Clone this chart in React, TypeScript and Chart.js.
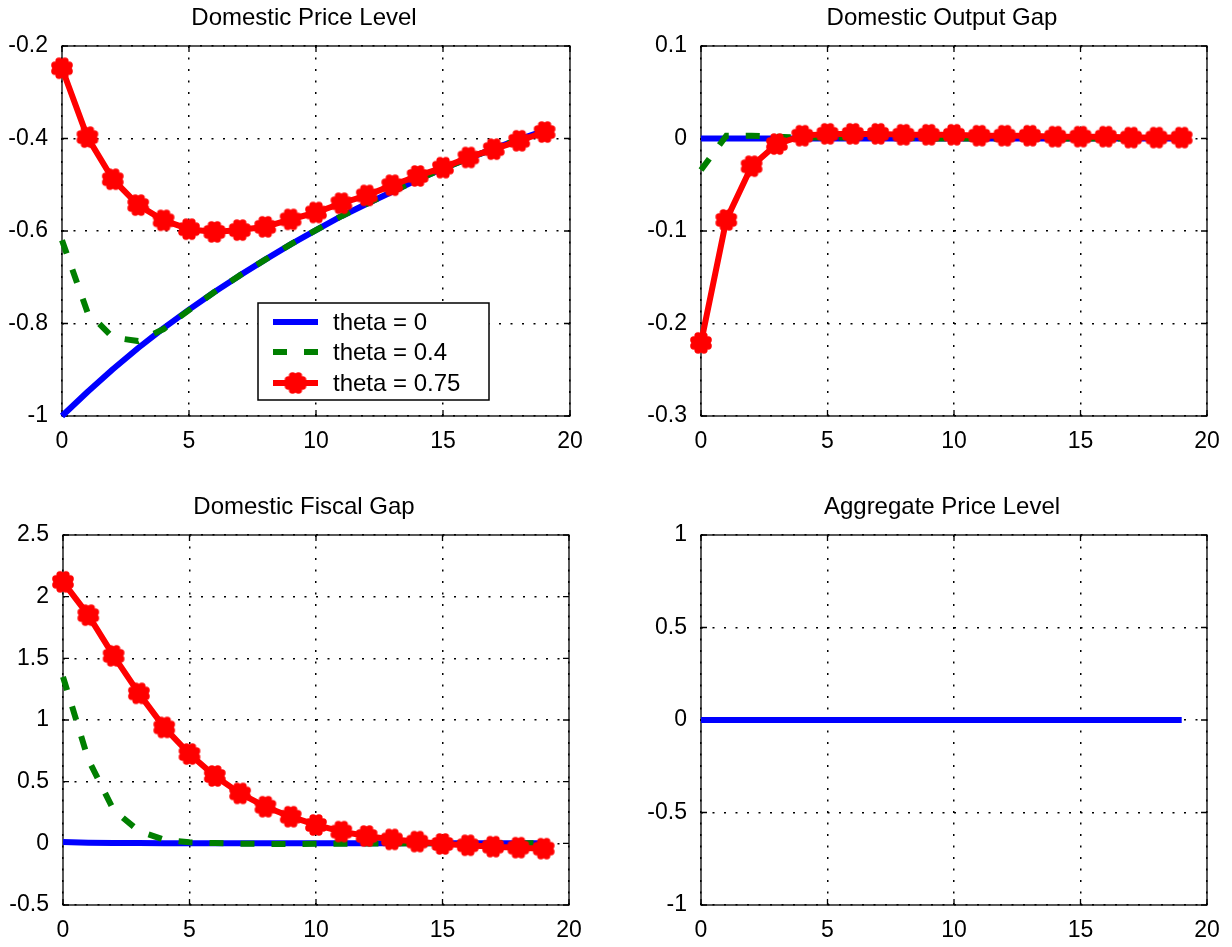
import React, { useEffect, useRef } from "react";
import { Chart, registerables } from "chart.js";
Chart.register(...registerables);

const FONT = "'Liberation Sans', Arial, Helvetica, sans-serif";

// ---- data ----
const STEPS = [0, 1, 2, 3, 4, 5, 6, 7, 8, 9, 10, 11, 12, 13, 14, 15, 16, 17, 18, 19];
const SERIES_LABELS = ["theta = 0", "theta = 0.4", "theta = 0.75"];
const PANEL_TITLES = ["Domestic Price Level", "Domestic Output Gap", "Domestic Fiscal Gap", "Aggregate Price Level"];

const priceLevelTheta0 = [-1.0, -0.948, -0.899, -0.853, -0.81, -0.77, -0.732, -0.696, -0.662, -0.629, -0.598, -0.568, -0.541, -0.515, -0.489, -0.465, -0.443, -0.422, -0.402, -0.383];
const priceLevelTheta04 = [-0.62, -0.775, -0.83, -0.838, -0.812, -0.771, -0.732, -0.696, -0.662, -0.629, -0.598, -0.568, -0.541, -0.515, -0.489, -0.465, -0.443, -0.422, -0.402, -0.383];
const priceLevelTheta075 = [-0.248, -0.397, -0.488, -0.544, -0.577, -0.596, -0.602, -0.598, -0.591, -0.575, -0.56, -0.54, -0.523, -0.501, -0.481, -0.463, -0.441, -0.423, -0.405, -0.386];

const outputGapTheta0 = [0, 0, 0, 0, 0, 0, 0, 0, 0, 0, 0, 0, 0, 0, 0, 0, 0, 0, 0, 0];
const outputGapTheta04 = [-0.034, 0.003, 0.003, 0.002, 0.001, 0.001, 0.001, 0.001, 0.001, 0, 0, 0, 0, 0, 0, 0, 0, 0, 0, 0];
const outputGapTheta075 = [-0.221, -0.088, -0.03, -0.006, 0.003, 0.005, 0.005, 0.005, 0.004, 0.004, 0.004, 0.003, 0.003, 0.003, 0.002, 0.002, 0.002, 0.001, 0.001, 0.001];

const fiscalGapTheta0 = [0.01, 0.005, 0.003, 0.002, 0.001, 0, 0, 0, 0, 0, 0, 0, 0, 0, 0, 0, 0, 0, 0, 0];
const fiscalGapTheta04 = [1.35, 0.68, 0.27, 0.1, 0.03, 0.008, 0.002, -0.003, -0.005, -0.005, -0.004, -0.003, -0.002, -0.001, 0, 0, 0, 0, 0, 0];
const fiscalGapTheta075 = [2.12, 1.85, 1.52, 1.216, 0.94, 0.724, 0.546, 0.405, 0.297, 0.216, 0.149, 0.095, 0.059, 0.032, 0.014, -0.005, -0.016, -0.027, -0.035, -0.043];

const aggregatePriceTheta0 = [0, 0, 0, 0, 0, 0, 0, 0, 0, 0, 0, 0, 0, 0, 0, 0, 0, 0, 0, 0];

// y-axis ranges [min, max, step]
const priceLevelRange = [-1, -0.2, 0.2];
const outputGapRange = [-0.3, 0.1, 0.1];
const fiscalGapRange = [-0.5, 2.5, 0.5];
const aggregatePriceRange = [-1, 1, 0.5];
const xRange = [0, 20, 5];

// ---- styling / layout ----
const COLORS = ["#0000ff", "#007f00", "#ff0000"];

type Box = { l: number; t: number; r: number; b: number };
type PanelSpec = {
  title: string;
  region: { x: number; y: number; w: number; h: number };
  area: Box;
  range: number[];
  series: number[][];
  legend: boolean;
};

const PANELS: PanelSpec[] = [
  { title: PANEL_TITLES[0], region: { x: 0, y: 0, w: 616, h: 473 }, area: { l: 62, t: 46, r: 570, b: 416 }, range: priceLevelRange, series: [priceLevelTheta0, priceLevelTheta04, priceLevelTheta075], legend: true },
  { title: PANEL_TITLES[1], region: { x: 616, y: 0, w: 616, h: 473 }, area: { l: 701, t: 46, r: 1207, b: 416 }, range: outputGapRange, series: [outputGapTheta0, outputGapTheta04, outputGapTheta075], legend: false },
  { title: PANEL_TITLES[2], region: { x: 0, y: 473, w: 616, h: 474 }, area: { l: 63, t: 535, r: 569, b: 905 }, range: fiscalGapRange, series: [fiscalGapTheta0, fiscalGapTheta04, fiscalGapTheta075], legend: false },
  { title: PANEL_TITLES[3], region: { x: 616, y: 473, w: 616, h: 474 }, area: { l: 701, t: 535, r: 1207, b: 905 }, range: aggregatePriceRange, series: [aggregatePriceTheta0], legend: false },
];

function makeMarker(): HTMLCanvasElement {
  const c = document.createElement("canvas");
  c.width = 24;
  c.height = 24;
  const g = c.getContext("2d")!;
  g.fillStyle = COLORS[2];
  g.beginPath();
  g.arc(12, 12, 8.5, 0, Math.PI * 2);
  g.fill();
  for (let k = 0; k < 8; k++) {
    const a = (k * Math.PI) / 4 + Math.PI / 8;
    g.beginPath();
    g.arc(12 + 7.7 * Math.cos(a), 12 + 7.7 * Math.sin(a), 3.7, 0, Math.PI * 2);
    g.fill();
  }
  return c;
}

const framePlugin = {
  id: "frame",
  beforeDatasetsDraw(chart: any) {
    const { ctx, chartArea: a, scales } = chart;
    ctx.save();
    ctx.strokeStyle = "#000";
    ctx.lineWidth = 1.3;
    ctx.strokeRect(a.left, a.top, a.right - a.left, a.bottom - a.top);
    const tl = 6;
    ctx.beginPath();
    scales.x.ticks.forEach((t: any) => {
      const px = scales.x.getPixelForValue(t.value);
      ctx.moveTo(px, a.bottom);
      ctx.lineTo(px, a.bottom - tl);
      ctx.moveTo(px, a.top);
      ctx.lineTo(px, a.top + tl);
    });
    scales.y.ticks.forEach((t: any) => {
      const py = scales.y.getPixelForValue(t.value);
      ctx.moveTo(a.left, py);
      ctx.lineTo(a.left + tl, py);
      ctx.moveTo(a.right, py);
      ctx.lineTo(a.right - tl, py);
    });
    ctx.stroke();
    ctx.restore();
  },
};

const titlePlugin = {
  id: "panelTitle",
  afterDraw(chart: any, _args: any, opts: any) {
    const { ctx, chartArea: a } = chart;
    ctx.save();
    ctx.fillStyle = "#000";
    ctx.font = `24px ${FONT}`;
    ctx.textAlign = "center";
    ctx.textBaseline = "alphabetic";
    ctx.fillText(opts.text, (a.left + a.right) / 2 + (opts.dx || 0), a.top - 21);
    ctx.restore();
  },
};

const legendPlugin = {
  id: "boxLegend",
  afterDatasetsDraw(chart: any, _args: any, opts: any) {
    if (!opts.show) return;
    const { ctx, chartArea: a } = chart;
    const w = 231, h = 97;
    const left = a.right - 312;
    const top = a.bottom - 113;
    ctx.save();
    ctx.fillStyle = "#fff";
    ctx.fillRect(left, top, w, h);
    ctx.strokeStyle = "#000";
    ctx.lineWidth = 1.5;
    ctx.strokeRect(left, top, w, h);
    const rows = [19, 49, 80];
    chart.data.datasets.forEach((ds: any, i: number) => {
      const y = top + rows[i];
      ctx.save();
      ctx.strokeStyle = ds.borderColor;
      ctx.lineWidth = ds.borderWidth;
      ctx.setLineDash(ds.borderDash || []);
      ctx.beginPath();
      ctx.moveTo(left + 15, y);
      ctx.lineTo(left + 60, y);
      ctx.stroke();
      ctx.restore();
      if (ds.pointStyle && typeof ds.pointStyle === "object") {
        const img = ds.pointStyle as HTMLCanvasElement;
        ctx.drawImage(img, left + 37.5 - img.width / 2, y - img.height / 2);
      }
      ctx.fillStyle = "#000";
      ctx.font = `24px ${FONT}`;
      ctx.textAlign = "left";
      ctx.textBaseline = "middle";
      ctx.fillText(ds.label, left + 75, y + 1);
    });
    ctx.restore();
  },
};

function fmt(v: number) {
  const n = Math.round(v * 1000) / 1000;
  return Object.is(n, -0) ? "0" : String(n);
}

function buildConfig(spec: PanelSpec, marker: HTMLCanvasElement): any {
  const { region, area, range } = spec;
  const yWidth = area.l - region.x;
  const xHeight = region.y + region.h - area.b;
  const padTop = area.t - region.y;
  const padRight = region.x + region.w - area.r;

  const datasets = spec.series.map((vals, i) => {
    const base: any = {
      label: SERIES_LABELS[i],
      data: STEPS.map((s, k) => ({ x: s, y: vals[k] })),
      borderColor: COLORS[i],
      backgroundColor: COLORS[i],
      borderWidth: 6,
      fill: false,
      tension: 0,
      clip: false,
      order: 3 - i,
      pointRadius: 0,
      borderJoinStyle: "round",
    };
    if (i === 1) {
      base.borderDash = [14, 17];
      base.borderCapStyle = "butt";
      base.borderJoinStyle = "miter";
    }
    if (i === 2) {
      base.pointStyle = marker;
      base.pointRadius = 10;
      base.pointBorderWidth = 0;
      base.pointBackgroundColor = COLORS[2];
    }
    return base;
  });

  const tickFont = { family: FONT, size: 23 };
  const gridDash = [2, 9.5];
  return {
    type: "line",
    data: { datasets },
    options: {
      responsive: false,
      animation: false,
      events: [],
      layout: { padding: { top: padTop, right: padRight, left: 0, bottom: 0 } },
      plugins: {
        legend: { display: false },
        tooltip: { enabled: false },
        title: { display: false },
        panelTitle: { text: spec.title, dx: -12 },
        boxLegend: { show: spec.legend },
      },
      scales: {
        x: {
          type: "linear",
          min: xRange[0],
          max: xRange[1],
          ticks: { stepSize: xRange[2], color: "#000", font: tickFont, padding: 12, maxRotation: 0, autoSkip: false, callback: (v: number) => fmt(v) },
          grid: { color: "#000", lineWidth: 1.5, drawTicks: false },
          border: { display: false, dash: gridDash },
          afterFit: (s: any) => { s.height = xHeight; },
        },
        y: {
          type: "linear",
          min: range[0],
          max: range[1],
          ticks: { stepSize: range[2], color: "#000", font: tickFont, padding: 14, autoSkip: false, callback: (v: number) => fmt(v) },
          grid: { color: "#000", lineWidth: 1.5, drawTicks: false },
          border: { display: false, dash: gridDash },
          afterFit: (s: any) => { s.width = yWidth; },
        },
      },
    },
    plugins: [framePlugin, titlePlugin, legendPlugin],
  };
}

export default function App() {
  const refs = useRef<(HTMLCanvasElement | null)[]>([]);

  useEffect(() => {
    const marker = makeMarker();
    const charts = PANELS.map((spec, i) => new Chart(refs.current[i]!, buildConfig(spec, marker)));
    return () => charts.forEach((c) => c.destroy());
  }, []);

  return (
    <div style={{ position: "absolute", left: 0, top: 0, width: 1232, height: 947, background: "#fff" }}>
      {PANELS.map((p, i) => (
        <canvas
          key={i}
          ref={(el) => { refs.current[i] = el; }}
          width={p.region.w}
          height={p.region.h}
          style={{ position: "absolute", left: p.region.x, top: p.region.y, width: p.region.w, height: p.region.h }}
        />
      ))}
    </div>
  );
}
